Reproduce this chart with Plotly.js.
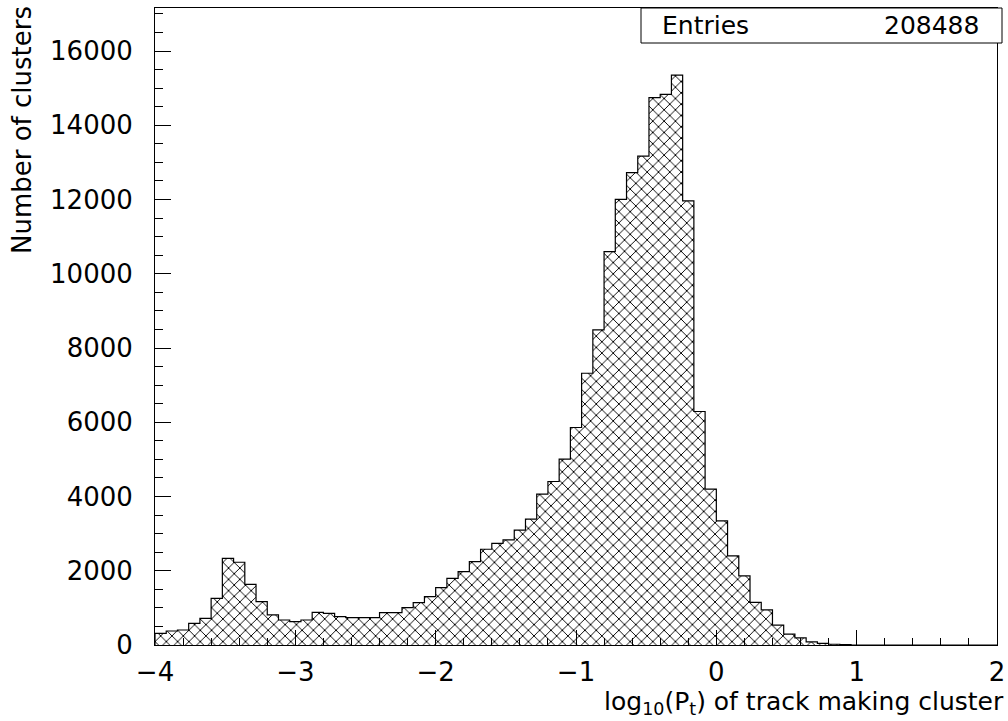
<!DOCTYPE html>
<html>
<head>
<meta charset="utf-8">
<script src="https://cdn.plot.ly/plotly-3.0.1.min.js"></script>
<style>
  html, body { margin: 0; padding: 0; background: #ffffff; }
  #chart { width: 1008px; height: 721px; }
</style>
</head>
<body>
<div id="chart"></div>
<script>
// Histogram binning: 75 equal bins over [-4, 2]
const xMin = -4;
const xMax = 2;
const nBins = 75;

// Cluster counts per bin of log10(Pt)
const counts = [
  315, 377, 404, 584, 719, 1258, 2336, 2229, 1635, 1168,
  809, 674, 629, 674, 880, 854, 764, 737, 737, 737,
  871, 871, 1006, 1141, 1303, 1545, 1797, 1977, 2246, 2580,
  2740, 2833, 3094, 3390, 4063, 4405, 5005, 5859, 7321, 8487,
  10598, 12006, 12725, 13172, 14743, 14833, 15353, 11962, 6290, 4198,
  3345, 2402, 1863, 1147, 948, 536, 293, 190, 86, 43,
  20, 12, 0, 0, 0, 0, 0, 0, 0, 0,
  0, 0, 0, 0, 0
];

const entriesLabel = 'Entries';
const entriesValue = '208488';

const xTickVals = [-4, -3, -2, -1, 0, 1, 2];
const xTickText = ['\u22124', '\u22123', '\u22122', '\u22121', '0', '1', '2'];
const yTickVals = [0, 2000, 4000, 6000, 8000, 10000, 12000, 14000, 16000];
const yTickText = ['0', '2000', '4000', '6000', '8000', '10000', '12000', '14000', '16000'];

const xTitle = 'log<sub>10</sub>(P<sub>t</sub>) of track making cluster';
const yTitle = 'Number of clusters';

// Derived bin geometry
const binW = (xMax - xMin) / nBins;
const centers = counts.map((_, i) => xMin + (i + 0.5) * binW);

// Step outline along the histogram contour
const stepX = [xMin];
const stepY = [0];
counts.forEach((c, i) => { stepX.push(xMin + i * binW); stepY.push(c); });
stepX.push(xMax); stepY.push(0);

const FONT = 'DejaVu Sans, Liberation Sans, sans-serif';

const bars = {
  type: 'bar',
  x: centers,
  y: counts,
  width: binW,
  marker: {
    color: '#ffffff',
    line: { width: 0 },
    pattern: { shape: 'x', size: 8, solidity: 0.22, fgcolor: '#000000', bgcolor: '#ffffff', fillmode: 'replace' }
  },
  hoverinfo: 'skip',
  showlegend: false
};

const outline = {
  type: 'scatter',
  mode: 'lines',
  x: stepX,
  y: stepY,
  line: { color: '#000000', width: 1.2, shape: 'hv' },
  hoverinfo: 'skip',
  showlegend: false
};

const layout = {
  width: 1008,
  height: 721,
  margin: { l: 155, r: 11, t: 8, b: 76 },
  paper_bgcolor: '#ffffff',
  plot_bgcolor: '#ffffff',
  bargap: 0,
  font: { family: FONT, color: '#000000', size: 26 },
  xaxis: {
    range: [xMin, xMax],
    tickmode: 'array',
    tickvals: xTickVals,
    ticktext: xTickText,
    ticks: 'inside',
    ticklen: 15,
    tickwidth: 1,
    tickcolor: '#000000',
    ticklabelstandoff: 4,
    minor: { tickmode: 'linear', tick0: xMin, dtick: 0.2, ticks: 'inside', ticklen: 7, tickcolor: '#000000', showgrid: false },
    showline: true,
    linecolor: '#000000',
    linewidth: 1,
    mirror: true,
    showgrid: false,
    zeroline: false,
    tickfont: { family: FONT, size: 26, color: '#000000' }
  },
  yaxis: {
    range: [0, 17160],
    tickmode: 'array',
    tickvals: yTickVals,
    ticktext: yTickText,
    ticks: 'inside',
    ticklen: 16,
    tickwidth: 1,
    tickcolor: '#000000',
    ticklabelstandoff: 16,
    minor: { tickmode: 'linear', tick0: 0, dtick: 500, ticks: 'inside', ticklen: 8, tickcolor: '#000000', showgrid: false },
    showline: true,
    linecolor: '#000000',
    linewidth: 1,
    mirror: true,
    showgrid: false,
    zeroline: false,
    tickfont: { family: FONT, size: 26, color: '#000000' }
  },
  shapes: [
    {
      type: 'rect', xref: 'paper', yref: 'paper',
      x0: (641 - 155) / 842, x1: (1002 - 155) / 842,
      y0: (645 - 43) / 637, y1: 1,
      line: { color: '#000000', width: 1 },
      fillcolor: '#ffffff',
      layer: 'above'
    }
  ],
  annotations: [
    {
      text: entriesLabel, xref: 'paper', yref: 'paper',
      x: (660 - 155) / 842, y: (645 - 26) / 637,
      xanchor: 'left', yanchor: 'middle', showarrow: false,
      font: { family: FONT, size: 25, color: '#000000' }
    },
    {
      text: entriesValue, xref: 'paper', yref: 'paper',
      x: (981 - 155) / 842, y: (645 - 26) / 637,
      xanchor: 'right', yanchor: 'middle', showarrow: false,
      font: { family: FONT, size: 25, color: '#000000' }
    },
    {
      text: xTitle, xref: 'paper', yref: 'paper',
      x: 1, y: 0, xanchor: 'right', yanchor: 'middle',
      xshift: 9, yshift: -58, showarrow: false,
      font: { family: FONT, size: 25, color: '#000000' }
    },
    {
      text: yTitle, xref: 'paper', yref: 'paper',
      x: 0, y: 1, xanchor: 'center', yanchor: 'top',
      xshift: -133, yshift: 4, textangle: -90, showarrow: false,
      font: { family: FONT, size: 26, color: '#000000' }
    }
  ]
};

Plotly.newPlot('chart', [bars, outline], layout, { staticPlot: true, displayModeBar: false });
</script>
</body>
</html>
